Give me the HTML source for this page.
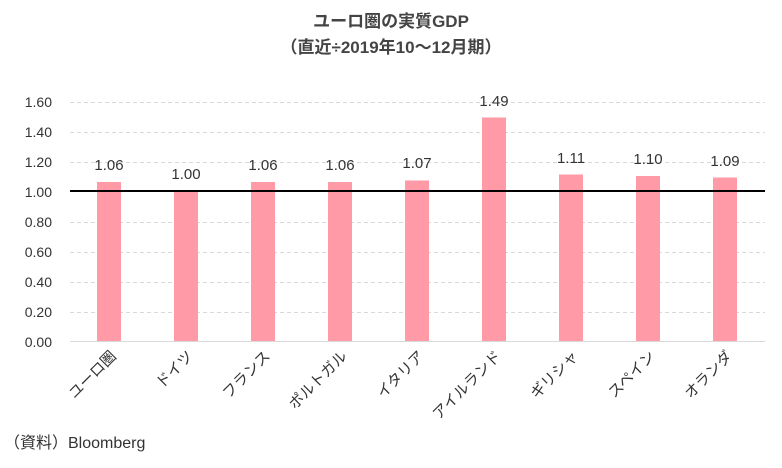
<!DOCTYPE html>
<html><head><meta charset="utf-8"><style>
body{margin:0;background:#fff;}
svg{display:block;font-family:"Liberation Sans","Noto Sans CJK JP",sans-serif;}
</style></head><body>
<svg width="782" height="468" viewBox="0 0 782 468">
<text x="391" y="27" text-anchor="middle" font-size="17" font-weight="bold" fill="#444">ユーロ圏の実質GDP</text>
<text x="391" y="53" text-anchor="middle" font-size="17" font-weight="bold" fill="#444">（直近÷2019年10〜12月期）</text>
<g stroke="#d9d9d9" stroke-width="1" stroke-dasharray="4,3">
<line x1="70" x2="765" y1="102.5" y2="102.5"/><line x1="70" x2="765" y1="132.5" y2="132.5"/>
<line x1="70" x2="765" y1="162.5" y2="162.5"/>
<line x1="70" x2="765" y1="222.5" y2="222.5"/><line x1="70" x2="765" y1="252.5" y2="252.5"/>
<line x1="70" x2="765" y1="282.5" y2="282.5"/><line x1="70" x2="765" y1="312.5" y2="312.5"/>
</g>
<g font-size="14" fill="#333" text-anchor="end">
<text x="52" y="107">1.60</text><text x="52" y="137">1.40</text><text x="52" y="167">1.20</text>
<text x="52" y="197">1.00</text><text x="52" y="227">0.80</text><text x="52" y="257">0.60</text>
<text x="52" y="287">0.40</text><text x="52" y="317">0.20</text><text x="52" y="347">0.00</text>
</g>
<g fill="#ff9aa6">
<rect x="97" y="182" width="24" height="159"/>
<rect x="174" y="191" width="24" height="150"/>
<rect x="251" y="182" width="24" height="159"/>
<rect x="328" y="182" width="24" height="159"/>
<rect x="405" y="180.5" width="24" height="160.5"/>
<rect x="482" y="117.5" width="24" height="223.5"/>
<rect x="559" y="174.5" width="24" height="166.5"/>
<rect x="636" y="176" width="24" height="165"/>
<rect x="713" y="177.5" width="24" height="163.5"/>
</g>
<line x1="70" x2="765" y1="341.5" y2="341.5" stroke="#d9d9d9" stroke-width="1"/>
<line x1="70" x2="765" y1="191" y2="191" stroke="#000" stroke-width="2"/>
<g font-size="15" fill="#333" text-anchor="middle">
<text x="109" y="170">1.06</text><text x="186" y="179">1.00</text><text x="263" y="170">1.06</text>
<text x="340" y="170">1.06</text><text x="417" y="168">1.07</text><text x="494" y="106">1.49</text>
<text x="571" y="163">1.11</text><text x="648" y="164">1.10</text><text x="725" y="166">1.09</text>
</g>
<g font-size="15" fill="#333" text-anchor="end">
<text transform="translate(117,357) rotate(-45)">ユーロ圏</text>
<text transform="translate(194,357) rotate(-45)">ドイツ</text>
<text transform="translate(271,357) rotate(-45)">フランス</text>
<text transform="translate(348,357) rotate(-45)">ポルトガル</text>
<text transform="translate(425,357) rotate(-45)">イタリア</text>
<text transform="translate(502,357) rotate(-45)">アイルランド</text>
<text transform="translate(579,357) rotate(-45)">ギリシャ</text>
<text transform="translate(656,357) rotate(-45)">スペイン</text>
<text transform="translate(733,357) rotate(-45)">オランダ</text>
</g>
<text x="4" y="448" font-size="16" fill="#333">（資料）Bloomberg</text>
</svg>
</body></html>
